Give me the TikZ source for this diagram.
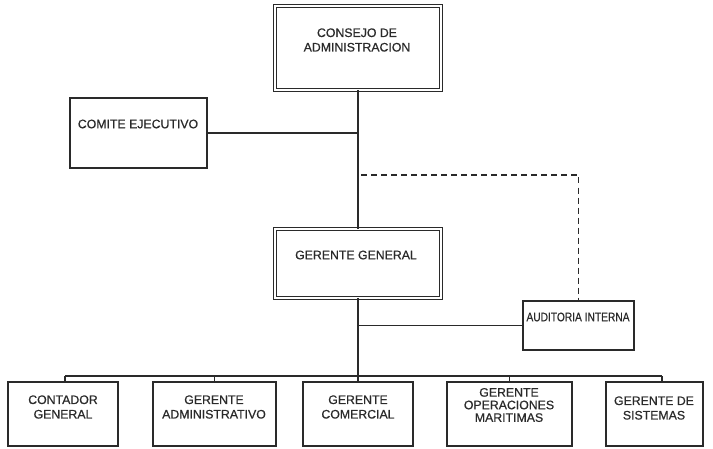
\documentclass[tikz,border=0pt]{standalone}
\usepackage{fontspec}
\setmainfont{Liberation Sans}
\newfontface\heavy{Liberation Sans}[FakeBold=0.6]
\usetikzlibrary{calc}
\definecolor{ink}{HTML}{2A2A2A}
\tikzset{
  box/.style={draw=ink, line width=1.1bp, rectangle, inner sep=0pt},
  dbox/.style={draw=ink, double=white, double distance=1.3bp, line width=0.9bp, rectangle, inner sep=0pt},
  txt/.style={text=ink, align=center, inner sep=0pt, font=\heavy\fontsize{12.3bp}{14.5bp}\selectfont},
  conn/.style={draw=ink, line width=1.2bp},
  dconn/.style={draw=ink, line width=1.2bp, dash pattern=on 6bp off 4bp}
}
\begin{document}
\begin{tikzpicture}[x=1bp,y=-1bp]
\useasboundingbox[fill=white] (0,0) rectangle (713,449);
% boxes
\node[dbox, minimum width=166bp, minimum height=84bp] (cons) at (358,48) {};
\node[txt] (consT) at (357,40) {CONSEJO DE\\ADMINISTRACION};
\node[box, minimum width=137bp, minimum height=70bp] (com) at (138.5,133) {};
\node[txt] (comT) at (138,124) {COMITE EJECUTIVO};
\node[dbox, minimum width=166bp, minimum height=69bp] (gg) at (358,263.5) {};
\node[txt] (ggT) at (356,255) {GERENTE GENERAL};
\node[box, minimum width=111bp, minimum height=49bp] (aud) at (578.5,325.5) {};
\node[txt] (audT) at (578,317) {\scalebox{0.83}[1]{AUDITORIA INTERNA}};
% bottom row
\node[box, minimum width=110bp, minimum height=64bp] (b1) at (63,414) {};
\node[txt] (b1T) at (63,407) {CONTADOR\\GENERAL};
\node[box, minimum width=123bp, minimum height=64bp] (b2) at (214.5,414) {};
\node[txt] (b2T) at (214,407) {GERENTE\\ADMINISTRATIVO};
\node[box, minimum width=110bp, minimum height=64bp] (b3) at (358,414) {};
\node[txt] (b3T) at (358,407) {GERENTE\\COMERCIAL};
\node[box, minimum width=125bp, minimum height=64bp] (b4) at (509.5,414) {};
\node[txt, font=\heavy\fontsize{12.3bp}{12.6bp}\selectfont] (b4T) at (509,405) {GERENTE\\OPERACIONES\\MARITIMAS};
\node[box, minimum width=97bp, minimum height=64bp] (b5) at (654.5,414) {};
\node[txt] (b5T) at (654,408) {GERENTE DE\\SISTEMAS};
% coordinates
\coordinate (bus1) at (65,376);
\coordinate (bus5) at (662,376);
\coordinate (dstart) at (361,175);
\coordinate (dcorner) at (aud.north |- dstart);
% connectors
\draw[conn] (cons.south) -- (gg.north);
\draw[conn] (gg.south) -- (b3.north);
\draw[conn] (com.east) -- (com.east -| cons.south);
\draw[conn] (aud.west) -- (aud.west -| gg.south);
\draw[dconn] (dstart) -- (dcorner) -- (aud.north);
\draw[conn] (bus1) -- (bus5);
\draw[conn] (bus1) -- (bus1 |- b1.north);
\draw[conn] (bus1 -| b2.north) -- (b2.north);
\draw[conn] (bus1 -| b4.north) -- (b4.north);
\draw[conn] (bus5) -- (bus5 |- b5.north);
\end{tikzpicture}
\end{document}
